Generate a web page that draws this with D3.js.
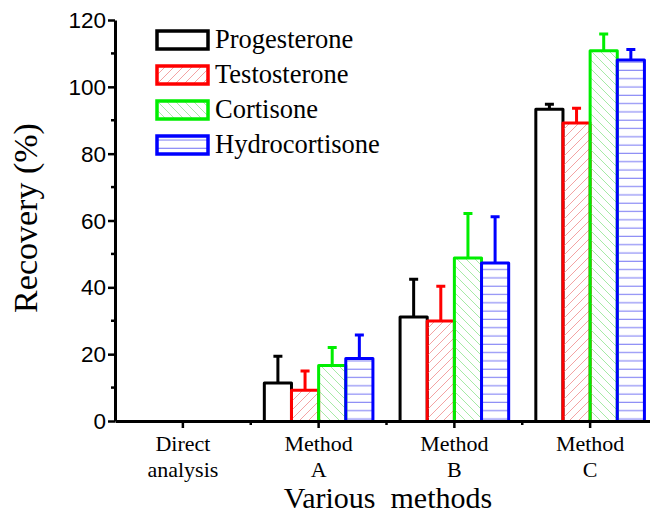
<!DOCTYPE html>
<html>
<head>
<meta charset="utf-8">
<script src="https://cdn.jsdelivr.net/npm/d3@7"></script>
<style>
  body { margin: 0; background: #fff; }
  svg { font-family: "Liberation Serif", "Times New Roman", serif; }
</style>
</head>
<body>
<svg id="chart" width="650" height="518"></svg>
<script>
var categories = [["Direct", "analysis"], ["Method", "A"], ["Method", "B"], ["Method", "C"]];
var compounds = ["Progesterone", "Testosterone", "Cortisone", "Hydrocortisone"];
var colors = ["#000000", "#ff0000", "#00ee00", "#0000ff"];
// recovery (%) per category, one array per compound
var progesterone   = [0, 11.4, 31.1, 93.3];
var testosterone   = [0, 9.2, 29.9, 89.2];
var cortisone      = [0, 16.6, 48.8, 110.8];
var hydrocortisone = [0, 18.7, 47.3, 108.0];
// error bars (upper only)
var progesteroneErr   = [0, 8.0, 11.3, 1.5];
var testosteroneErr   = [0, 5.8, 10.4, 4.4];
var cortisoneErr      = [0, 5.4, 13.3, 5.0];
var hydrocortisoneErr = [0, 7.0, 13.8, 3.2];
var yTicks = [0, 20, 40, 60, 80, 100, 120];

var values = [progesterone, testosterone, cortisone, hydrocortisone];
var errors = [progesteroneErr, testosteroneErr, cortisoneErr, hydrocortisoneErr];

var svg = d3.select("#chart");
var mLeft = 115, mRight = 658, mTop = 20, mBottom = 421;

var x = d3.scaleBand()
    .domain(d3.range(categories.length))
    .range([mLeft, mRight])
    .padding(0);

var xSub = d3.scaleBand()
    .domain(d3.range(compounds.length))
    .range([x.bandwidth() * 0.1, x.bandwidth() * 0.9])
    .padding(0);

var y = d3.scaleLinear()
    .domain([0, 120])
    .range([mBottom, mTop]);

// fill patterns
var defs = svg.append("defs");
var p1 = defs.append("pattern").attr("id", "hatchRed")
    .attr("patternUnits", "userSpaceOnUse").attr("width", 9).attr("height", 9);
p1.append("path").attr("d", "M-1,10 L10,-1 M-2,2 L2,-2 M7,11 L11,7")
    .attr("stroke", "#f3a3a3").attr("stroke-width", 1);
var p2 = defs.append("pattern").attr("id", "hatchGreen")
    .attr("patternUnits", "userSpaceOnUse").attr("width", 9).attr("height", 9);
p2.append("path").attr("d", "M-1,-1 L10,10 M-2,7 L2,11 M7,-2 L11,2")
    .attr("stroke", "#a6eaa6").attr("stroke-width", 1);
var p3 = defs.append("pattern").attr("id", "hatchBlue")
    .attr("patternUnits", "userSpaceOnUse").attr("width", 8).attr("height", 8.3);
p3.append("line").attr("x1", 0).attr("x2", 8).attr("y1", 4).attr("y2", 4)
    .attr("stroke", "#8c8cf5").attr("stroke-width", 1.2);
var fills = ["#ffffff", "url(#hatchRed)", "url(#hatchGreen)", "url(#hatchBlue)"];

// bars and error bars
compounds.forEach(function(name, k) {
    var g = svg.append("g");
    var data = values[k].map(function(v, i) { return {i: i, v: v, e: errors[k][i]}; })
        .filter(function(d) { return d.v > 0; });

    g.selectAll(".err")
        .data(data)
        .enter().append("path")
        .attr("class", "err")
        .attr("d", function(d) {
            var cx = x(d.i) + xSub(k) + xSub.bandwidth() / 2;
            return "M" + cx + "," + y(d.v) + "V" + y(d.v + d.e) +
                   "M" + (cx - 4.5) + "," + y(d.v + d.e) + "H" + (cx + 4.5);
        })
        .attr("fill", "none")
        .attr("stroke", colors[k])
        .attr("stroke-width", 3);

    g.selectAll(".bar")
        .data(data)
        .enter().append("path")
        .attr("class", "bar")
        .attr("d", function(d) {
            var x0 = x(d.i) + xSub(k), x1 = x0 + xSub.bandwidth();
            return "M" + x0 + "," + y(0) + "V" + y(d.v) + "H" + x1 + "V" + y(0);
        })
        .attr("fill", fills[k])
        .attr("stroke", colors[k])
        .attr("stroke-width", 3)
        .attr("stroke-linejoin", "round");
});

// y axis
var yAxis = d3.axisLeft(y).tickValues(yTicks).tickSize(7).tickSizeOuter(0).tickPadding(2);
var gy = svg.append("g").attr("transform", "translate(" + mLeft + ",0)").call(yAxis);
gy.selectAll(".tick text").style("font-size", "22.5px").attr("dy", "0.34em");
gy.selectAll("line").attr("stroke-width", 2.5);
gy.select(".domain").attr("stroke-width", 3);
gy.selectAll(".minor")
    .data(yTicks.slice(0, -1).map(function(d) { return d + 10; }))
    .enter().append("line")
    .attr("class", "minor")
    .attr("x1", 0).attr("x2", -4)
    .attr("y1", function(d) { return y(d); })
    .attr("y2", function(d) { return y(d); })
    .attr("stroke", "#000").attr("stroke-width", 2.5);

// x axis
var xAxis = d3.axisBottom(x).tickSize(7).tickSizeOuter(0).tickFormat("");
var gx = svg.append("g").attr("transform", "translate(0," + mBottom + ")").call(xAxis);
gx.selectAll("line").attr("stroke-width", 2.5);
gx.select(".domain").attr("stroke-width", 3);
gx.selectAll(".minor")
    .data(d3.range(1, categories.length))
    .enter().append("line")
    .attr("class", "minor")
    .attr("x1", function(d) { return x(d); })
    .attr("x2", function(d) { return x(d); })
    .attr("y1", 0).attr("y2", 4)
    .attr("stroke", "#000").attr("stroke-width", 2.5);

var lab = svg.append("g").selectAll("text")
    .data(categories)
    .enter().append("text")
    .attr("x", function(d, i) { return x(i) + x.bandwidth() / 2; })
    .attr("y", 451)
    .attr("text-anchor", "middle")
    .style("font-size", "22px");
lab.append("tspan").attr("x", function(d, i) { return x(i) + x.bandwidth() / 2; })
    .text(function(d) { return d[0]; });
lab.append("tspan").attr("x", function(d, i) { return x(i) + x.bandwidth() / 2; })
    .attr("dy", 26)
    .text(function(d) { return d[1]; });

// axis titles
svg.append("text")
    .attr("x", 388).attr("y", 508)
    .attr("text-anchor", "middle")
    .style("font-size", "30px")
    .style("white-space", "pre")
    .text("Various  methods");

svg.append("text")
    .attr("transform", "translate(37,218) rotate(-90)")
    .attr("text-anchor", "middle")
    .style("font-size", "34px")
    .text("Recovery (%)");

// legend
var legend = svg.selectAll(".legend")
    .data(compounds)
    .enter().append("g")
    .attr("class", "legend")
    .attr("transform", function(d, i) { return "translate(157," + (31 + i * 35) + ")"; });

legend.append("rect")
    .attr("width", 51).attr("height", 18)
    .attr("fill", function(d, i) { return fills[i]; })
    .attr("stroke", function(d, i) { return colors[i]; })
    .attr("stroke-width", 3.5);

legend.append("text")
    .attr("x", 58).attr("y", 17)
    .style("font-size", "26.5px")
    .text(function(d) { return d; });
</script>
</body>
</html>
